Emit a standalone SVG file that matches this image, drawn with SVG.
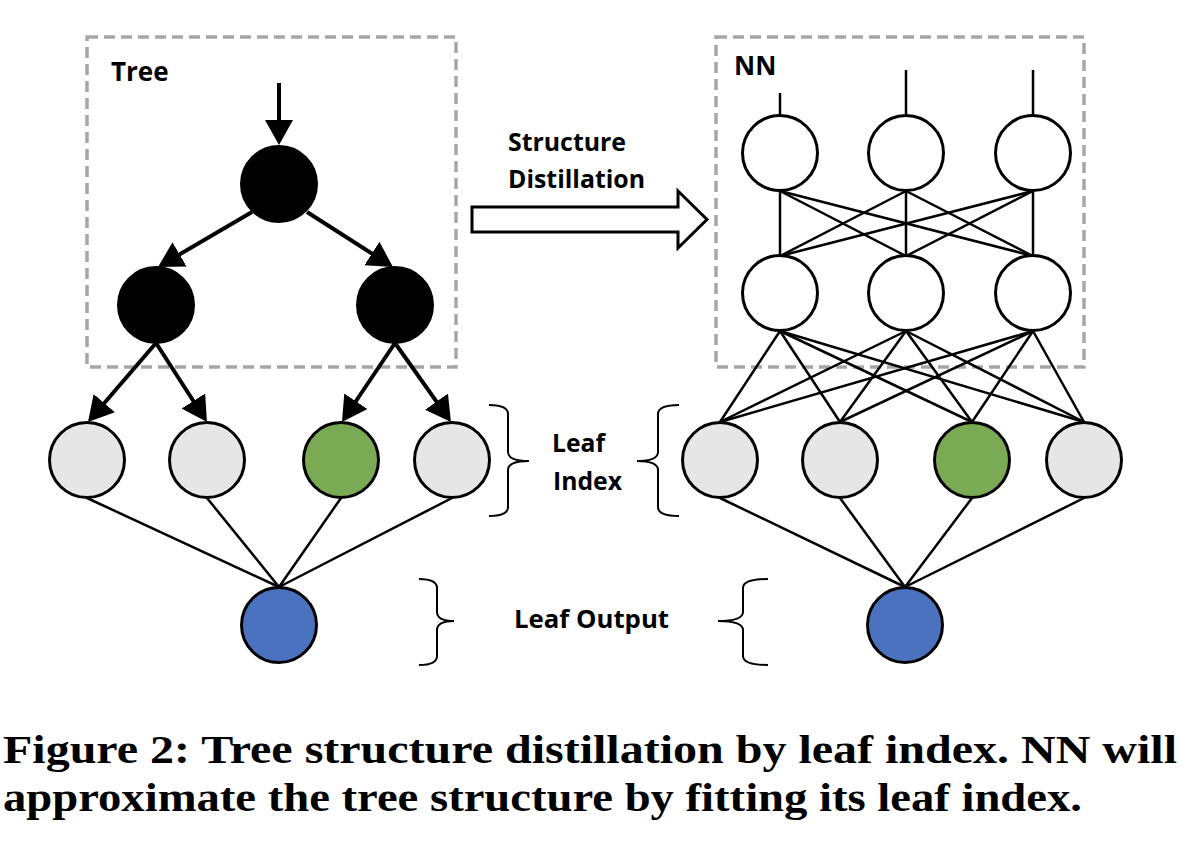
<svg xmlns="http://www.w3.org/2000/svg" width="1192" height="860" viewBox="0 0 1192 860">
<style>
.box{fill:none;stroke:#A6A6A6;stroke-width:3.5;stroke-dasharray:11 6}
.lbl{font-family:"Open Sans","Liberation Sans",sans-serif;font-weight:700;fill:#000}
.cap{font-family:"Liberation Serif","DejaVu Serif",serif;font-weight:700;font-size:41px;fill:#000}
.tn{fill:#000;stroke:#000;stroke-width:2}
.leaf{fill:#E6E6E6;stroke:#000;stroke-width:3}
.hit{fill:#7BAA55;stroke:#000;stroke-width:3}
.out{fill:#4A72BF;stroke:#000;stroke-width:3}
.nn{fill:#fff;stroke:#000;stroke-width:3}
.arr{stroke:#000;stroke-width:4;fill:none;marker-end:url(#ah)}
.ln{stroke:#000;stroke-width:2.5;fill:none}
.br{stroke:#000;stroke-width:2;fill:none}
</style>
<defs>
<marker id="ah" markerUnits="userSpaceOnUse" markerWidth="26" markerHeight="30" refX="19" refY="14" orient="auto">
<path d="M0,0 L25,14 L0,28 z" fill="#000"/>
</marker>
</defs>
<rect width="1192" height="860" fill="#fff"/>

<g id="tree-box"><rect class="box" x="87" y="37" width="369" height="330"/><text class="lbl" x="111" y="81" font-size="26">Tree</text></g>
<g id="nn-box"><rect class="box" x="716" y="37" width="368" height="330"/><text class="lbl" x="734" y="75" font-size="26">NN</text></g>

<g id="connectors">
<line class="arr" x1="279" y1="83" x2="279" y2="139"/>
<line class="arr" x1="252" y1="212" x2="163.2" y2="264"/>
<line class="arr" x1="307" y1="212" x2="387.9" y2="263.8"/>
<line class="arr" x1="156" y1="343" x2="91.9" y2="417.5"/>
<line class="arr" x1="156" y1="343" x2="203.7" y2="417"/>
<line class="arr" x1="395" y1="343" x2="345.3" y2="417"/>
<line class="arr" x1="395" y1="343" x2="447.5" y2="417.1"/>
<line class="ln" x1="87" y1="498" x2="279" y2="587"/>
<line class="ln" x1="207" y1="498" x2="279" y2="587"/>
<line class="ln" x1="341" y1="498" x2="279" y2="587"/>
<line class="ln" x1="452" y1="498" x2="279" y2="587"/>
<line class="ln" x1="780" y1="93" x2="780" y2="116"/>
<line class="ln" x1="906" y1="70" x2="906" y2="116"/>
<line class="ln" x1="1033" y1="70" x2="1033" y2="116"/>
<line class="ln" x1="780" y1="191" x2="780" y2="256"/>
<line class="ln" x1="780" y1="191" x2="906" y2="256"/>
<line class="ln" x1="780" y1="191" x2="1033" y2="256"/>
<line class="ln" x1="906" y1="191" x2="780" y2="256"/>
<line class="ln" x1="906" y1="191" x2="906" y2="256"/>
<line class="ln" x1="906" y1="191" x2="1033" y2="256"/>
<line class="ln" x1="1033" y1="191" x2="780" y2="256"/>
<line class="ln" x1="1033" y1="191" x2="906" y2="256"/>
<line class="ln" x1="1033" y1="191" x2="1033" y2="256"/>
<line class="ln" x1="780" y1="331" x2="720" y2="422"/>
<line class="ln" x1="780" y1="331" x2="840" y2="422"/>
<line class="ln" x1="780" y1="331" x2="972" y2="422"/>
<line class="ln" x1="780" y1="331" x2="1084" y2="422"/>
<line class="ln" x1="906" y1="331" x2="720" y2="422"/>
<line class="ln" x1="906" y1="331" x2="840" y2="422"/>
<line class="ln" x1="906" y1="331" x2="972" y2="422"/>
<line class="ln" x1="906" y1="331" x2="1084" y2="422"/>
<line class="ln" x1="1033" y1="331" x2="720" y2="422"/>
<line class="ln" x1="1033" y1="331" x2="840" y2="422"/>
<line class="ln" x1="1033" y1="331" x2="972" y2="422"/>
<line class="ln" x1="1033" y1="331" x2="1084" y2="422"/>
<line class="ln" x1="720" y1="498" x2="905" y2="587"/>
<line class="ln" x1="840" y1="498" x2="905" y2="587"/>
<line class="ln" x1="972" y1="498" x2="905" y2="587"/>
<line class="ln" x1="1084" y1="498" x2="905" y2="587"/>
</g>

<g id="tree-root"><circle class="tn" cx="279" cy="184" r="38"/></g>
<g id="tree-left"><circle class="tn" cx="156" cy="305" r="38"/></g>
<g id="tree-right"><circle class="tn" cx="395" cy="305" r="38"/></g>
<g id="tree-leaf1"><circle class="leaf" cx="87" cy="460" r="37.5"/></g>
<g id="tree-leaf2"><circle class="leaf" cx="207" cy="460" r="37.5"/></g>
<g id="tree-leaf3"><circle class="hit" cx="341" cy="460" r="37.5"/></g>
<g id="tree-leaf4"><circle class="leaf" cx="452" cy="460" r="37.5"/></g>
<g id="tree-output"><circle class="out" cx="279" cy="625" r="37.5"/></g>

<g id="nn-h1a"><circle class="nn" cx="780" cy="153" r="37.5"/></g>
<g id="nn-h1b"><circle class="nn" cx="906" cy="153" r="37.5"/></g>
<g id="nn-h1c"><circle class="nn" cx="1033" cy="153" r="37.5"/></g>
<g id="nn-h2a"><circle class="nn" cx="780" cy="293" r="37.5"/></g>
<g id="nn-h2b"><circle class="nn" cx="906" cy="293" r="37.5"/></g>
<g id="nn-h2c"><circle class="nn" cx="1033" cy="293" r="37.5"/></g>
<g id="nn-leaf1"><circle class="leaf" cx="720" cy="460" r="37.5"/></g>
<g id="nn-leaf2"><circle class="leaf" cx="840" cy="460" r="37.5"/></g>
<g id="nn-leaf3"><circle class="hit" cx="972" cy="460" r="37.5"/></g>
<g id="nn-leaf4"><circle class="leaf" cx="1084" cy="460" r="37.5"/></g>
<g id="nn-output"><circle class="out" cx="905" cy="625" r="37.5"/></g>

<g id="distill-arrow">
<polygon points="472,207 678,207 678,191 707,219.5 678,248 678,232 472,232" fill="#fff" stroke="#000" stroke-width="3" stroke-linejoin="miter"/>
<text class="lbl" x="508" y="151" font-size="25" textLength="118" lengthAdjust="spacingAndGlyphs">Structure</text>
<text class="lbl" x="508" y="188" font-size="25" textLength="137" lengthAdjust="spacingAndGlyphs">Distillation</text>
</g>

<g id="leaf-index-label">
<path class="br" d="M489,405 Q508,405 508,414 L508,452 Q508,461 529,461 Q508,461 508,470 L508,507 Q508,516 489,516"/>
<path class="br" d="M679,405 Q658,405 658,414 L658,452 Q658,461 637,461 Q658,461 658,470 L658,507 Q658,516 679,516"/>
<text class="lbl" x="552" y="452" font-size="25" textLength="53" lengthAdjust="spacingAndGlyphs">Leaf</text>
<text class="lbl" x="553" y="490" font-size="25" textLength="69" lengthAdjust="spacingAndGlyphs">Index</text>
</g>

<g id="leaf-output-label">
<path class="br" d="M419,579 Q437,579 437,588 L437,612 Q437,621 454,621 Q437,621 437,630 L437,656 Q437,665 419,665"/>
<path class="br" d="M768,579 Q743,579 743,588 L743,612 Q743,621 718,621 Q743,621 743,630 L743,656 Q743,665 768,665"/>
<text class="lbl" x="514" y="628" font-size="25" textLength="155" lengthAdjust="spacingAndGlyphs">Leaf Output</text>
</g>

<g id="caption">
<text class="cap" x="3" y="763" textLength="1174" lengthAdjust="spacingAndGlyphs">Figure 2: Tree structure distillation by leaf index. NN will</text>
<text class="cap" x="3" y="811" textLength="1079" lengthAdjust="spacingAndGlyphs">approximate the tree structure by fitting its leaf index.</text>
</g>
</svg>
